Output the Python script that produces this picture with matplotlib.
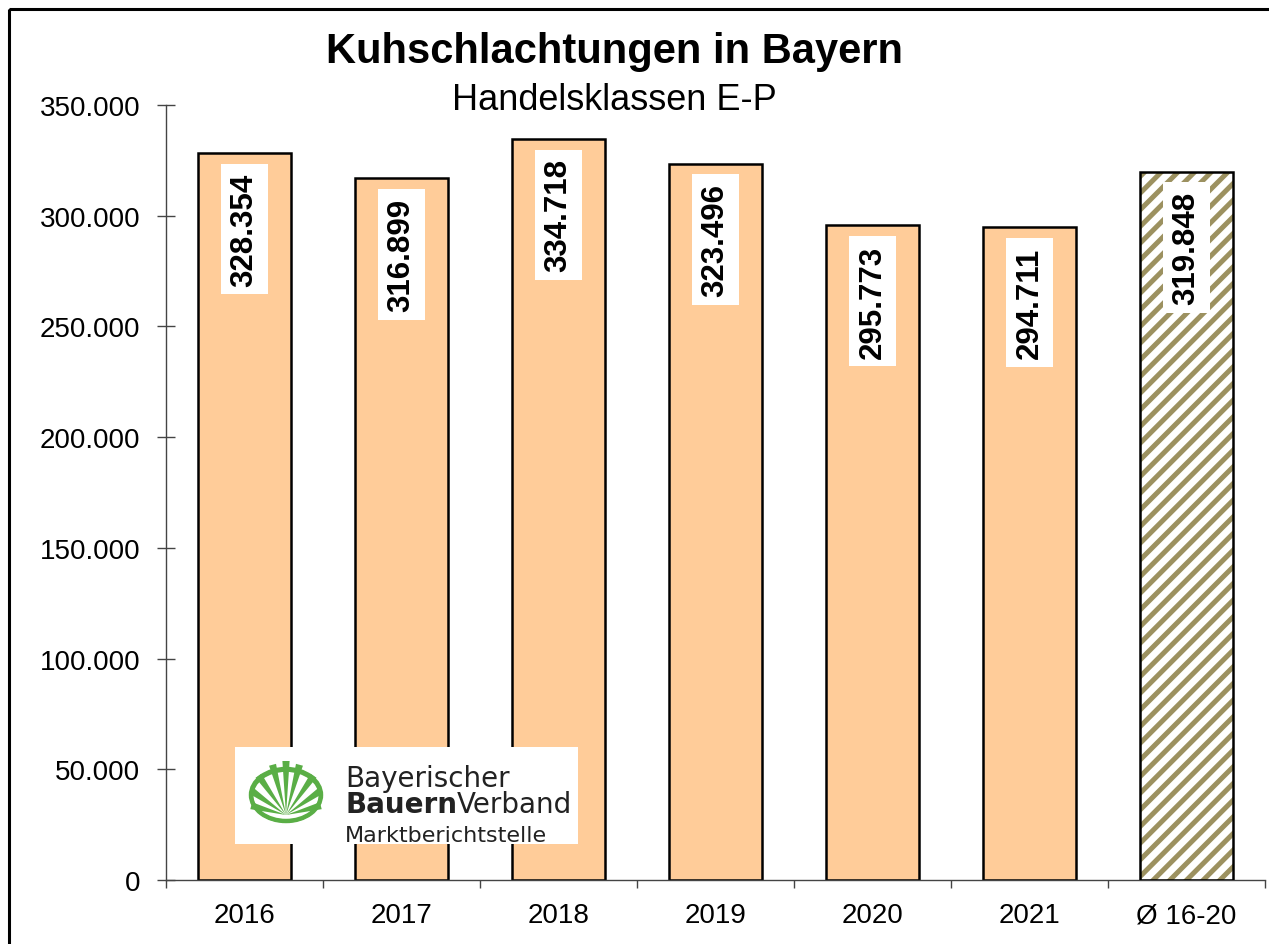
import matplotlib
matplotlib.use("Agg")
import matplotlib.pyplot as plt
from matplotlib.patches import Rectangle, Ellipse, Polygon
from matplotlib.ticker import FuncFormatter, FixedLocator
import numpy as np

plt.rcParams['font.family'] = ['Liberation Sans', 'DejaVu Sans']
plt.rcParams['hatch.linewidth'] = 3.6

# data
years = ["2016", "2017", "2018", "2019", "2020", "2021"]
values = [328354, 316899, 334718, 323496, 295773, 294711]
avg_label = "Ø 16-20"
avg_value = 319848

title = "Kuhschlachtungen in Bayern"
subtitle = "Handelsklassen E-P"

bar_color = "#FFCC99"
hatch_color = "#9C9160"


def de_fmt(v, pos=None):
    return f"{int(round(v)):,}".replace(",", ".")


fig = plt.figure(figsize=(12.69, 9.45), dpi=100)
ax = fig.add_axes([166 / 1269, 1 - 881 / 945, (1265 - 166) / 1269, (881 - 106) / 945])

x = np.arange(len(years))
ax.bar(x, values, width=0.59, color=bar_color, edgecolor="black", linewidth=1.8, zorder=2)
xa = len(years)
ax.bar(xa, avg_value, width=0.59, color="white", edgecolor=hatch_color, hatch="//", linewidth=0, zorder=2)
ax.bar(xa, avg_value, width=0.59, fill=False, edgecolor="black", linewidth=1.8, zorder=3)

all_vals = values + [avg_value]
for i, v in enumerate(all_vals):
    ax.annotate(de_fmt(v), xy=(i, v), xytext=(0, -14), textcoords="offset points",
                rotation=90, ha="center", va="top", fontsize=22.5, fontweight="bold",
                bbox=dict(boxstyle="square,pad=0.28", fc="white", ec="none"), zorder=4)

ax.set_xlim(-0.5, len(all_vals) - 0.5)
ax.set_ylim(0, 350000)
ax.set_yticks(np.arange(0, 350001, 50000))
ax.yaxis.set_major_formatter(FuncFormatter(de_fmt))
ax.set_xticks(np.arange(len(all_vals)))
ax.set_xticklabels(years + [avg_label])
ax.xaxis.set_minor_locator(FixedLocator(np.arange(-0.5, len(all_vals), 1.0)))
ax.tick_params(axis="x", which="major", length=0, pad=16, labelsize=20)
ax.tick_params(axis="x", which="minor", length=6, width=1, direction="out", color="#444444")
ax.tick_params(axis="y", length=13, width=1, direction="inout", pad=12, labelsize=20, color="#444444")

for s in ["top", "right"]:
    ax.spines[s].set_visible(False)
for s in ["left", "bottom"]:
    ax.spines[s].set_color("#444444")
    ax.spines[s].set_linewidth(1)

# titles
fig.text(614 / 1269, 1 - 52 / 945, title, ha="center", va="center", fontsize=30, fontweight="bold")
fig.text(614 / 1269, 1 - 100 / 945, subtitle, ha="center", va="center", fontsize=26)

# overlay in pixel coords for logo and frame
ov = fig.add_axes([0, 0, 1, 1], zorder=10)
ov.set_xlim(0, 1269)
ov.set_ylim(945, 0)
ov.axis("off")
ov.patch.set_alpha(0)

ov.add_patch(Rectangle((235, 748), 343, 97, fc="white", ec="none"))
green = "#5AAE46"
ov.add_patch(Ellipse((286, 796), 70, 52, fill=False, ec=green, lw=3.2))
ov.add_patch(Ellipse((286, 797), 68, 51, fill=False, ec=green, lw=2.0))
base = np.array([286.0, 816.0])
angles = np.radians([165, 145, 125, 105, 90, 75, 55, 35, 15])
lengths = [36, 42, 48, 52, 54, 52, 48, 42, 36]
for a, L in zip(angles, lengths):
    d = np.array([np.cos(a), -np.sin(a)])
    p = np.array([-d[1], d[0]])
    tip = base + d * L
    ov.add_patch(Polygon([base, tip + p * 3.6, tip - p * 3.6], closed=True, fc=green, ec="none"))

ov.text(345, 787, "Bayerischer", family="DejaVu Sans", fontsize=20, color="#222222", va="baseline")
ov.text(345, 813, "Bauern", family="DejaVu Sans", fontsize=20, fontweight="bold", color="#222222", va="baseline")
ov.text(457, 813, "Verband", family="DejaVu Sans", fontsize=20, color="#222222", va="baseline")
ov.text(345, 842, "Marktberichtstelle", family="DejaVu Sans", fontsize=16, color="#222222", va="baseline")

ov.add_patch(Rectangle((9, 10), 1300, 1000, fill=False, ec="black", lw=2.2))

fig.savefig("out.png", dpi=100)
